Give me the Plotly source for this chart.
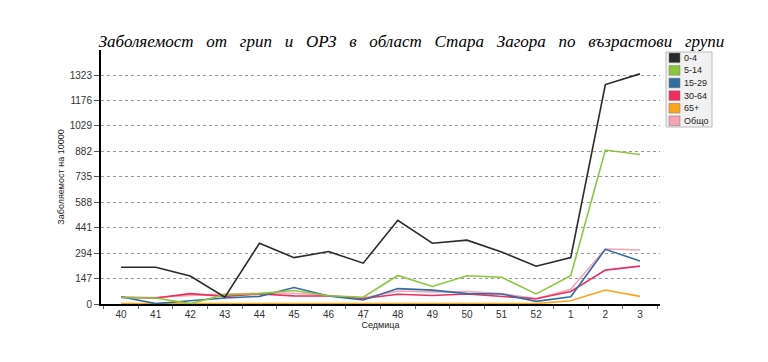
import plotly.graph_objects as go

weeks = ["40", "41", "42", "43", "44", "45", "46", "47", "48", "49", "50", "51", "52", "1", "2", "3"]
series_names = ["0-4", "5-14", "15-29", "30-64", "65+", "Общо"]
v_0_4 = [212, 212, 162, 39, 351, 268, 303, 236, 484, 351, 369, 301, 218, 268, 1268, 1330]
v_5_14 = [38, 35, 2, 54, 60, 78, 48, 39, 165, 101, 163, 155, 58, 163, 890, 864]
v_15_29 = [42, 2, 19, 35, 44, 95, 46, 23, 89, 80, 60, 58, 15, 42, 316, 249]
v_30_64 = [38, 35, 60, 44, 58, 47, 46, 32, 56, 49, 58, 44, 30, 72, 196, 219]
v_65 = [2, 2, 1, 2, 4, 5, 3, 2, 3, 2, 3, 2, 2, 19, 81, 44]
v_total = [40, 38, 50, 55, 62, 62, 50, 35, 75, 70, 72, 60, 30, 85, 318, 312]
y_ticks = [0, 147, 294, 441, 588, 735, 882, 1029, 1176, 1323]

colors = ["#2a2a2a", "#8cc63e", "#2f6e9f", "#ec2f5e", "#fba61a", "#f5a3b5"]
data = [v_0_4, v_5_14, v_15_29, v_30_64, v_65, v_total]

W, H = 768, 362
ML, MR, MT, MB = 101, 108, 50, 58
PW, PH = W - ML - MR, H - MT - MB

def px(x):
    return (x - ML) / PW

def py(y):
    return (H - MB - y) / PH

fig = go.Figure()
for i in [5, 4, 3, 2, 1, 0]:
    fig.add_trace(go.Scatter(x=weeks, y=data[i], mode="lines", name=series_names[i],
                             line=dict(color=colors[i], width=1.6), showlegend=False))

# manual compact legend
shapes = [dict(type="rect", xref="paper", yref="paper", x0=px(666), x1=px(712), y0=py(127), y1=py(52),
               fillcolor="#f1f1f1", line=dict(color="#bbbbbb", width=1), layer="above")]
annotations = []
for i, name in enumerate(series_names):
    yc = 57.8 + 12.6 * i
    shapes.append(dict(type="rect", xref="paper", yref="paper", x0=px(669), x1=px(680),
                       y0=py(yc + 4.8), y1=py(yc - 4.8), fillcolor=colors[i],
                       line=dict(color="#777", width=0.5), layer="above"))
    annotations.append(dict(xref="paper", yref="paper", x=px(682), y=py(yc), text=name,
                            showarrow=False, xanchor="left", yanchor="middle",
                            font=dict(family="Liberation Sans", size=9, color="#222")))

title_words = "Заболяемост от грип и ОРЗ в област Стара Загора по възрастови групи".split(" ")
sep = "\u00a0" * 3
fig.update_layout(
    width=W, height=H,
    paper_bgcolor="white", plot_bgcolor="white",
    margin=dict(l=ML, r=MR, t=MT, b=MB),
    showlegend=False,
    title=dict(text=sep.join(title_words), x=px(411.5), xanchor="center", xref="paper",
               y=1 - 41 / H, yanchor="middle",
               font=dict(family="Liberation Serif", size=17, color="black", style="italic")),
    font=dict(family="Liberation Sans", size=10, color="#333"),
    shapes=shapes, annotations=annotations,
    xaxis=dict(type="category", range=[-0.58, 15.58], tickson="boundaries",
               showgrid=False, showline=True, linecolor="black", linewidth=2,
               ticks="outside", ticklen=3, tickcolor="#666", zeroline=False,
               title=dict(text="Седмица", font=dict(size=9, color="#222"), standoff=2)),
    yaxis=dict(range=[0, 1468], tickmode="array", tickvals=y_ticks,
               showgrid=True, gridcolor="#999", griddash="dot", gridwidth=1,
               showline=True, linecolor="black", linewidth=2,
               ticks="outside", ticklen=5, tickcolor="#555", zeroline=False,
               title=dict(text="Заболяемост на 10000", font=dict(size=9, color="#222"), standoff=4)),
)
fig.write_html("out.html", config={"displayModeBar": False},
               post_script="document.body.style.margin='0';")
